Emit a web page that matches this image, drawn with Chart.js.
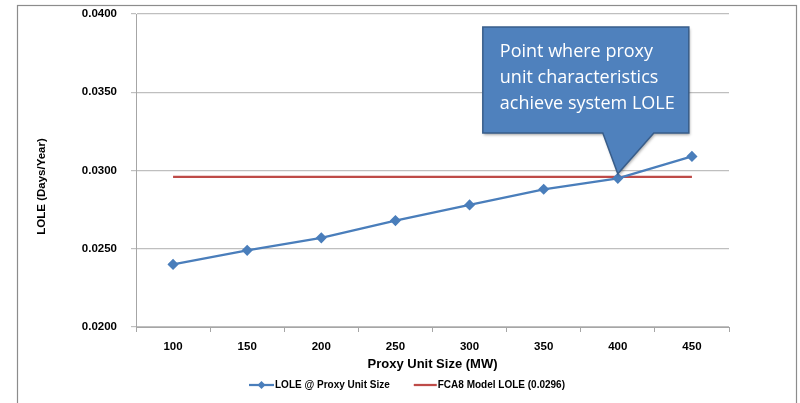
<!DOCTYPE html>
<html>
<head>
<meta charset="utf-8">
<script src="https://cdn.jsdelivr.net/npm/chart.js@4/dist/chart.umd.min.js"></script>
<style>
    html, body { margin: 0; padding: 0; background: #fff; }
    #wrap { width: 800px; height: 403px; }
</style>
</head>
<body>
<div id="wrap"><canvas id="lolChart" width="800" height="403"></canvas></div>
<script>
const unitSizes = ["100", "150", "200", "250", "300", "350", "400", "450"];
const loleProxy = [0.0240, 0.0249, 0.0257, 0.0268, 0.0278, 0.0288, 0.0295, 0.0309];
const fca8Lole = [0.0296, 0.0296, 0.0296, 0.0296, 0.0296, 0.0296, 0.0296, 0.0296];
const yTicks = [0.0200, 0.0250, 0.0300, 0.0350, 0.0400];
const calloutLines = ["Point where proxy", "unit characteristics", "achieve system LOLE"];
const calloutAt = "400";

const blue = "#4A7EBB";
const red = "#BE4B48";
const tickFont = { family: "Liberation Sans", size: 11.5, weight: "bold" };

// frame round the whole chart, like the Excel chart border
const framePlugin = {
    id: "frame",
    beforeDraw(chart) {
        const ctx = chart.ctx;
        ctx.save();
        ctx.strokeStyle = "#8c8c8c";
        ctx.lineWidth = 1.2;
        ctx.strokeRect(17.5, 5.5, 779, 420);
        ctx.restore();
    }
};

// callout box pointing at the crossing point
const calloutPlugin = {
    id: "callout",
    afterDatasetsDraw(chart) {
        const ctx = chart.ctx;
        const x = chart.scales.x.getPixelForValue(unitSizes.indexOf(calloutAt));
        const y = chart.scales.y.getPixelForValue(fca8Lole[0]) - 3;
        const top = chart.chartArea.top + 13;
        const left = x - 135, right = x + 71, bottom = top + 106;
        ctx.save();
        ctx.beginPath();
        ctx.moveTo(left, top);
        ctx.lineTo(right, top);
        ctx.lineTo(right, bottom);
        ctx.lineTo(x + 36, bottom);
        ctx.lineTo(x, y);
        ctx.lineTo(x - 15, bottom);
        ctx.lineTo(left, bottom);
        ctx.closePath();
        ctx.shadowColor = "rgba(0,0,0,0.35)";
        ctx.shadowOffsetX = 1;
        ctx.shadowOffsetY = 2;
        ctx.shadowBlur = 3;
        ctx.fillStyle = "#4F81BD";
        ctx.fill();
        ctx.shadowColor = "transparent";
        ctx.strokeStyle = "#385D8A";
        ctx.lineWidth = 1.5;
        ctx.stroke();
        ctx.fillStyle = "#fff";
        ctx.font = "18px 'Open Sans'";
        ctx.textBaseline = "middle";
        calloutLines.forEach((t, i) => ctx.fillText(t, left + 17, top + 25 + i * 26));
        ctx.restore();
    }
};

// legend centred in the frame, line (+ marker) then label
const legendPlugin = {
    id: "bottomLegend",
    afterDraw(chart) {
        const ctx = chart.ctx;
        const items = chart.data.datasets.map(ds => ({
            text: ds.label, color: ds.borderColor, marker: ds.pointRadius > 0, len: ds.pointRadius > 0 ? 25 : 23
        }));
        ctx.save();
        ctx.font = "bold 10px 'Liberation Sans Narrow', 'Liberation Sans'";
        const gap = 24;
        let total = 0;
        items.forEach((it, i) => {
            it.w = ctx.measureText(it.text).width;
            total += it.len + 1 + it.w + (i ? gap : 0);
        });
        let x = (17 + 797) / 2 - total / 2;
        const y = 385;
        items.forEach(it => {
            ctx.strokeStyle = it.color;
            ctx.lineWidth = 2.25;
            ctx.beginPath();
            ctx.moveTo(x, y);
            ctx.lineTo(x + it.len, y);
            ctx.stroke();
            if (it.marker) {
                const cx = x + it.len / 2;
                ctx.fillStyle = it.color;
                ctx.beginPath();
                ctx.moveTo(cx, y - 4);
                ctx.lineTo(cx + 4, y);
                ctx.lineTo(cx, y + 4);
                ctx.lineTo(cx - 4, y);
                ctx.closePath();
                ctx.fill();
            }
            ctx.fillStyle = "#000";
            ctx.textBaseline = "middle";
            ctx.fillText(it.text, x + it.len + 1, y);
            x += it.len + 1 + it.w + gap;
        });
        ctx.restore();
    }
};

new Chart(document.getElementById("lolChart"), {
    type: "line",
    data: {
        labels: unitSizes,
        datasets: [{
            label: "LOLE @ Proxy Unit Size",
            data: loleProxy,
            borderColor: blue,
            backgroundColor: blue,
            borderWidth: 2.25,
            pointStyle: "rectRot",
            pointRadius: 4,
            tension: 0
        }, {
            label: "FCA8 Model LOLE (0.0296)",
            data: fca8Lole,
            borderColor: red,
            backgroundColor: red,
            borderWidth: 2.25,
            pointRadius: 0,
            tension: 0
        }]
    },
    options: {
        responsive: false,
        animation: false,
        layout: { padding: { left: 17, right: 71, top: 14, bottom: 31 } },
        plugins: {
            legend: { display: false },
            tooltip: { enabled: false }
        },
        scales: {
            x: {
                offset: true,
                grid: { offset: true, drawOnChartArea: false, tickLength: 5, color: "#a6a6a6" },
                border: { color: "#a6a6a6" },
                ticks: { color: "#000", font: tickFont, padding: 8, maxRotation: 0 },
                title: { display: true, text: "Proxy Unit Size (MW)", color: "#000", font: { family: "Liberation Sans", size: 13, weight: "bold" }, padding: 0 },
                afterFit: scale => { scale.height = 45; scale.paddingLeft = 0; scale.paddingRight = 0; }
            },
            y: {
                min: 0.02,
                max: 0.04,
                afterBuildTicks: scale => { scale.ticks = yTicks.map(v => ({ value: v })); },
                grid: { color: "#bfbfbf", tickLength: 5, lineWidth: 1.2 },
                border: { color: "#a6a6a6" },
                ticks: { color: "#000", font: tickFont, padding: 14, callback: v => v.toFixed(4) },
                // trailing spaces push the title a bit below the middle, as in the original
                title: { display: true, text: "LOLE (Days/Year)".padEnd(26, "\u00a0"), color: "#000", font: { family: "Liberation Sans", size: 11.5, weight: "bold" }, padding: { top: 18, bottom: 0 } },
                afterFit: scale => { scale.width = 119; scale.paddingTop = 0; scale.paddingBottom = 0; }
            }
        }
    },
    plugins: [framePlugin, calloutPlugin, legendPlugin]
});
</script>
</body>
</html>
